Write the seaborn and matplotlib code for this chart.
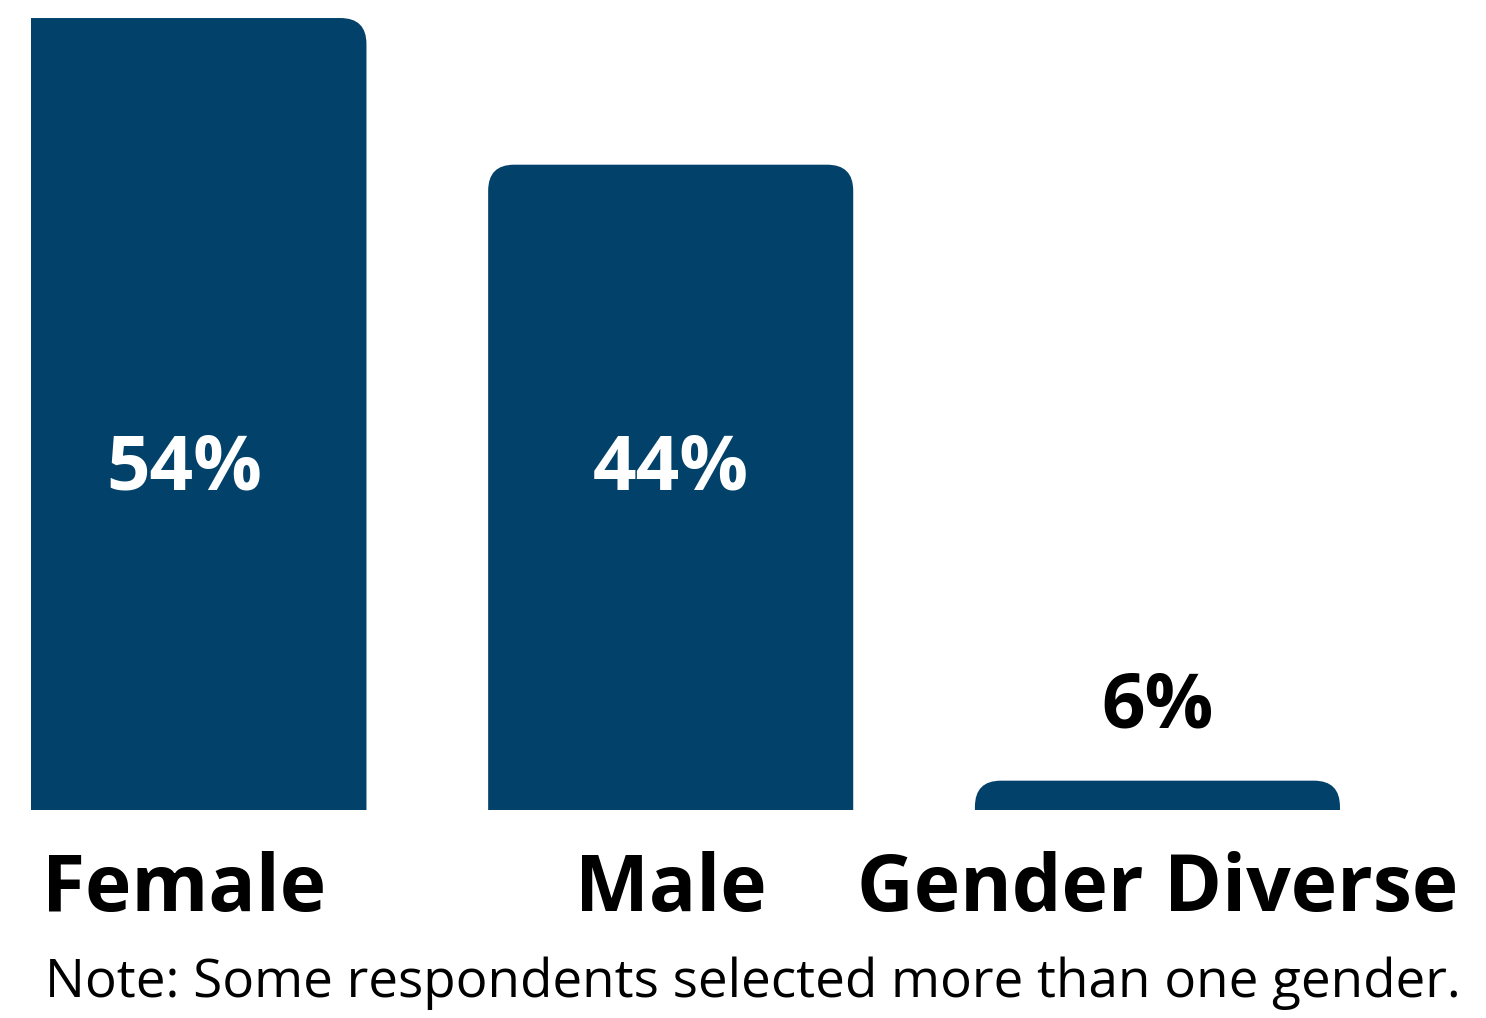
import matplotlib
matplotlib.use("Agg")
import matplotlib.pyplot as plt
import matplotlib.transforms as mtransforms
from matplotlib.patches import FancyBboxPatch
import seaborn as sns
import pandas as pd

# ---- data ----
categories = ["Female", "Male", "Gender Diverse"]
percent_values = [54, 44, 6]
bar_heights = [54, 44, 2]          # bar heights as drawn in the picture
value_labels = ["54%", "44%", "6%"]
note_text = "Note: Some respondents selected more than one gender."

BLUE = "#02416A"

sns.set_theme(style="white")
plt.rcParams['font.family'] = ['Open Sans', 'DejaVu Sans']

W, H = 1486, 1018
fig = plt.figure(figsize=(W / 100, H / 100), dpi=100)
ax = fig.add_axes([31 / W, (H - 810) / H, (W - 31) / W, 810 / H])

df = pd.DataFrame({"category": categories, "height": bar_heights})
sns.barplot(data=df, x="category", y="height", color=BLUE, width=0.75,
            saturation=1, ax=ax)

ax.set_xlim(-0.3142, 2.675)
ax.set_ylim(0, 55.23)
ax.axis("off")

# px per data unit
fig.canvas.draw()
px_x = ax.transData.transform((1, 0))[0] - ax.transData.transform((0, 0))[0]
px_y = ax.transData.transform((0, 1))[1] - ax.transData.transform((0, 0))[1]
radius_px = 26
r_x = radius_px / px_x
r_y = radius_px / px_y

for p in list(ax.patches):
    x0, w, h = p.get_x(), p.get_width(), p.get_height()
    p.remove()
    fb = FancyBboxPatch((x0, -r_y), w, h + r_y,
                        boxstyle=f"round,pad=0,rounding_size={r_x}",
                        mutation_aspect=r_y / r_x,
                        facecolor=BLUE, edgecolor="none", clip_on=True)
    ax.add_patch(fb)

# value labels
for i, (h, lab) in enumerate(zip(bar_heights, value_labels)):
    if h > 20:
        ax.text(i, (810 - 490) / px_y, lab, ha="center", va="baseline",
                color="white", fontsize=55, fontweight="bold")
    else:
        ax.text(i, h + 53 / px_y, lab, ha="center", va="baseline",
                color="black", fontsize=55, fontweight="bold")

# category labels
trans = mtransforms.blended_transform_factory(ax.transData, fig.transFigure)
for i, cat in enumerate(categories):
    ax.text(i, (H - 911) / H, cat, transform=trans, ha="center", va="baseline",
            color="black", fontsize=56.5, fontweight="bold", clip_on=False)

fig.text(45 / W, (H - 997) / H, note_text, ha="left", va="baseline",
         color="black", fontsize=38.2, fontweight="normal")

fig.savefig("out.png", dpi=100)
